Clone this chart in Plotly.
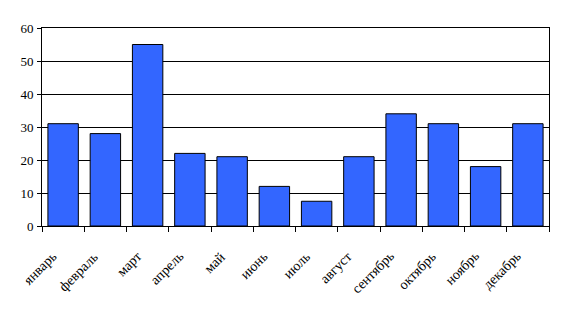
import plotly.graph_objects as go

months = ["январь", "февраль", "март", "апрель", "май", "июнь", "июль",
          "август", "сентябрь", "октябрь", "ноябрь", "декабрь"]
values = [31, 28, 55, 22, 21, 12, 7.5, 21, 34, 31, 18, 31]
y_ticks = [0, 10, 20, 30, 40, 50, 60]

fig = go.Figure(go.Bar(
    x=months, y=values,
    marker=dict(color="#3366FF", line=dict(color="black", width=1)),
))
for m in months:
    fig.add_annotation(
        x=m, y=0, xref="x", yref="y", text=m, showarrow=False,
        textangle=-45, xanchor="right", yanchor="top",
        xshift=-1, yshift=-20,
        font=dict(family="Liberation Serif", size=14, color="black"),
    )
fig.update_layout(
    width=565, height=312,
    margin=dict(l=42, r=16, t=28, b=86),
    paper_bgcolor="white", plot_bgcolor="white",
    bargap=0.28, showlegend=False,
    font=dict(family="Liberation Serif", color="black", size=13),
)
fig.update_xaxes(
    range=[-0.5, len(months) - 0.5], autorange=False,
    tickson="boundaries", ticks="outside", ticklen=5, showticklabels=False,
    tickcolor="black", showline=True, linecolor="black", linewidth=1,
    mirror=True, automargin=False,
)
fig.update_yaxes(
    range=[0, 60], tickvals=y_ticks, ticks="outside", ticklen=4,
    tickcolor="black", showline=True, linecolor="black", linewidth=1,
    mirror=True, gridcolor="black", gridwidth=1, zeroline=False,
    ticklabelstandoff=1, tickfont=dict(size=13), automargin=False,
)
fig.write_html("out.html")
